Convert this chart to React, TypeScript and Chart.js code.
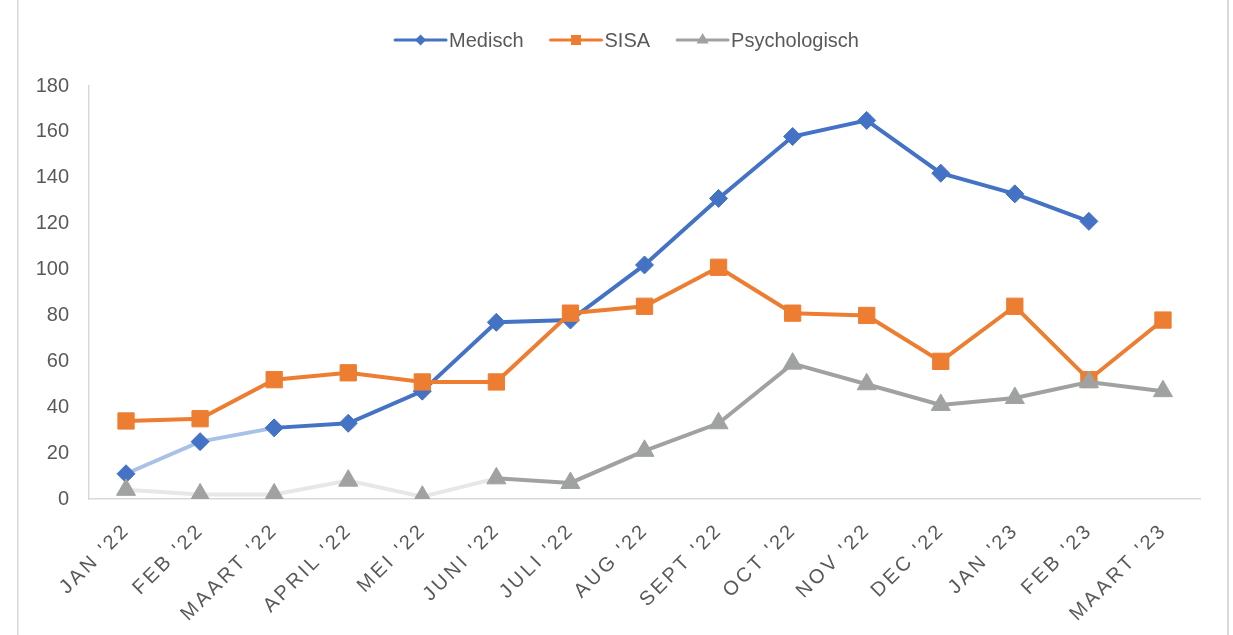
import React, { useEffect, useRef } from 'react';
import { Chart, registerables } from 'chart.js';

Chart.register(...registerables);

const categories = [
  "JAN '22", "FEB '22", "MAART '22", "APRIL '22", "MEI '22", "JUNI '22", "JULI '22",
  "AUG '22", "SEPT '22", "OCT '22", "NOV '22", "DEC '22", "JAN '23", "FEB '23", "MAART '23",
];
const medisch = [11, 25, 31, 33, 47, 77, 78, 102, 131, 158, 165, 142, 133, 121, null];
const sisa = [34, 35, 52, 55, 51, 51, 81, 84, 101, 81, 80, 60, 84, 52, 78];
const psychologisch = [4, 2, 2, 8, 1, 9, 7, 21, 33, 59, 50, 41, 44, 51, 47];
const seriesNames = ['Medisch', 'SISA', 'Psychologisch'];
const yMin = 0;
const yMax = 180;
const yStep = 20;

const FONT = '"Liberation Sans", Arial, sans-serif';
const TEXT = '#595959';
const BLUE = '#4472C4';
const LIGHT_BLUE = '#A9C1E6';
const ORANGE = '#ED7D31';
const GRAY = '#A0A2A2';
const LIGHT_GRAY = '#E6E7E6';
const AXIS = '#D9D9D9';

function drawMarker(ctx: CanvasRenderingContext2D, style: string, x: number, y: number, r: number, color: string) {
  ctx.fillStyle = color;
  ctx.beginPath();
  if (style === 'rectRot') {
    ctx.moveTo(x - r, y);
    ctx.lineTo(x, y - r);
    ctx.lineTo(x + r, y);
    ctx.lineTo(x, y + r);
  } else if (style === 'rect') {
    ctx.rect(x - r, y - r, 2 * r, 2 * r);
  } else {
    ctx.moveTo(x, y - r);
    ctx.lineTo(x + r * 0.866, y + r / 2);
    ctx.lineTo(x - r * 0.866, y + r / 2);
  }
  ctx.closePath();
  ctx.fill();
}

const framePlugin = {
  id: 'frame',
  beforeDraw(chart: any) {
    const ctx = chart.ctx as CanvasRenderingContext2D;
    ctx.save();
    ctx.fillStyle = AXIS;
    ctx.fillRect(17, 0, 1.5, chart.height);
    ctx.fillRect(1227, 0, 2, chart.height);
    ctx.restore();
  },
};

const xLabelsPlugin = {
  id: 'xLabels',
  afterDraw(chart: any) {
    const ctx = chart.ctx as CanvasRenderingContext2D;
    const xs = chart.scales.x;
    ctx.save();
    ctx.font = `20px ${FONT}`;
    ctx.fillStyle = TEXT;
    ctx.textAlign = 'right';
    ctx.textBaseline = 'middle';
    (ctx as any).letterSpacing = '3px';
    categories.forEach((lab, i) => {
      const px = xs.getPixelForValue(i);
      ctx.save();
      ctx.translate(px + 1, xs.top + 28);
      ctx.rotate(-Math.PI / 4);
      ctx.fillText(lab, 0, 0);
      ctx.restore();
    });
    ctx.restore();
  },
};

const legendPlugin = {
  id: 'customLegend',
  afterDraw(chart: any) {
    const ctx = chart.ctx as CanvasRenderingContext2D;
    const items = [
      { label: seriesNames[0], color: BLUE, style: 'rectRot', r: 5.5 },
      { label: seriesNames[1], color: ORANGE, style: 'rect', r: 5 },
      { label: seriesNames[2], color: GRAY, style: 'triangle', r: 7 },
    ];
    ctx.save();
    ctx.font = `20px ${FONT}`;
    const lineLen = 51;
    const textGap = 3;
    const gap = 27;
    const widths = items.map((it) => ctx.measureText(it.label).width);
    const total = widths.reduce((a, w) => a + lineLen + textGap + w, 0) + gap * (items.length - 1);
    let x = 627 - total / 2;
    const y = 40;
    items.forEach((it, i) => {
      ctx.strokeStyle = it.color;
      ctx.lineWidth = 3;
      ctx.lineCap = 'round';
      ctx.beginPath();
      ctx.moveTo(x, y);
      ctx.lineTo(x + lineLen, y);
      ctx.stroke();
      drawMarker(ctx, it.style, x + lineLen / 2, y, it.r, it.color);
      ctx.fillStyle = TEXT;
      ctx.textAlign = 'left';
      ctx.textBaseline = 'middle';
      ctx.fillText(it.label, x + lineLen + textGap, y + 1);
      x += lineLen + textGap + widths[i] + gap;
    });
    ctx.restore();
  },
};

export default function App() {
  const ref = useRef<HTMLCanvasElement>(null);

  useEffect(() => {
    const chart = new Chart(ref.current!, {
      type: 'line',
      data: {
        labels: categories,
        datasets: [
          {
            label: seriesNames[0],
            data: medisch,
            borderColor: BLUE,
            backgroundColor: BLUE,
            borderWidth: 4,
            pointStyle: 'rectRot',
            pointRadius: 9,
            pointBorderWidth: 1,
            pointBackgroundColor: BLUE,
            pointBorderColor: BLUE,
            order: 3,
            segment: {
              borderColor: (c: any) => (c.p0DataIndex < 2 ? LIGHT_BLUE : undefined),
            },
          },
          {
            label: seriesNames[1],
            data: sisa,
            borderColor: ORANGE,
            backgroundColor: ORANGE,
            borderWidth: 4,
            pointStyle: 'rect',
            pointRadius: 11.5,
            pointBorderWidth: 1,
            pointBackgroundColor: ORANGE,
            pointBorderColor: ORANGE,
            order: 2,
          },
          {
            label: seriesNames[2],
            data: psychologisch,
            borderColor: GRAY,
            backgroundColor: GRAY,
            borderWidth: 4,
            pointStyle: 'triangle',
            pointRadius: 11,
            pointBorderWidth: 1,
            pointBackgroundColor: GRAY,
            pointBorderColor: GRAY,
            order: 1,
            segment: {
              borderColor: (c: any) => (c.p0DataIndex < 5 ? LIGHT_GRAY : undefined),
            },
          },
        ],
      },
      options: {
        responsive: false,
        animation: false,
        layout: { padding: { top: 86, right: 33, left: 0, bottom: 0 } },
        plugins: {
          legend: { display: false },
          tooltip: { enabled: false },
        },
        elements: { line: { tension: 0 } },
        scales: {
          x: {
            offset: true,
            grid: { display: false, drawTicks: false },
            border: { display: true, color: AXIS, width: 1.5 },
            ticks: { display: false },
            afterFit: (s: any) => {
              s.height = 136;
            },
          },
          y: {
            min: yMin,
            max: yMax,
            grid: { display: false, drawTicks: false },
            border: { display: true, color: AXIS, width: 1.5 },
            ticks: {
              stepSize: yStep,
              padding: 20,
              color: TEXT,
              font: { family: FONT, size: 20 },
            },
            afterFit: (s: any) => {
              s.width = 89;
            },
          },
        },
      },
      plugins: [framePlugin, xLabelsPlugin, legendPlugin],
    });
    return () => chart.destroy();
  }, []);

  return (
    <div style={{ position: 'fixed', left: 0, top: 0, width: 1233, height: 635, background: '#fff' }}>
      <canvas ref={ref} width={1233} height={635} style={{ display: 'block' }} />
    </div>
  );
}
